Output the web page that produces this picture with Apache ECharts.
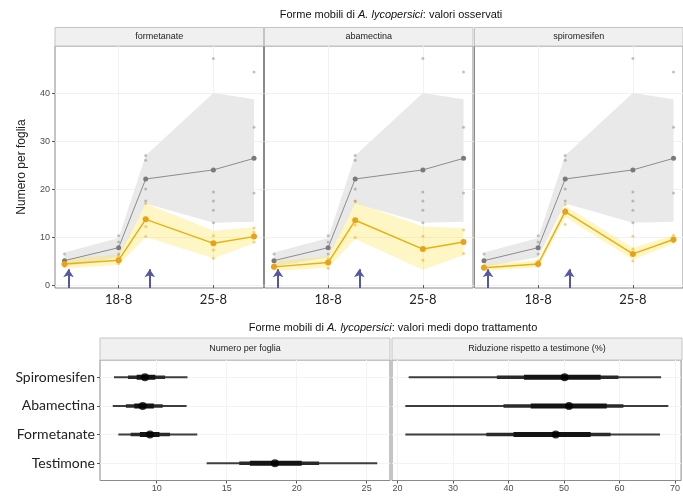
<!DOCTYPE html>
<html><head><meta charset="utf-8">
<script src="https://cdn.jsdelivr.net/npm/echarts@6/dist/echarts.min.js"></script>
<style>html,body{margin:0;padding:0;background:#fff}#c{width:683px;height:502px}</style>
</head><body><div id="c"></div>
<script>
// ---------- DATA (top: observed values) ----------
const panels = ['formetanate', 'abamectina', 'spiromesifen'];
const days = [14, 18, 20, 25, 28];              // day of August
const xTickValues = [18, 25];
const xTickLabels = ['18-8', '25-8'];
const yTickValues = [0, 10, 20, 30, 40];
const treatmentDays = [14.3, 20.3];

const ctrlMean = [5.1, 7.8, 22.1, 24.0, 26.4];
const ctrlLo   = [3.8, 5.8, 17.0, 13.0, 13.2];
const ctrlHi   = [6.8, 9.8, 27.0, 40.0, 38.7];
const ctrlRaw  = [[6.5, 5.2, 4.0], [10.3, 9.0, 6.5], [27.0, 26.0, 20.0, 17.5], [47.2, 19.4, 17.5, 15.6, 13.0], [44.4, 32.9, 26.4, 19.2]];

const formetanateMean = [4.4, 5.2, 13.7, 8.7, 10.1];
const formetanateLo   = [3.4, 4.2, 10.0, 5.6, 8.7];
const formetanateHi   = [5.5, 6.4, 17.0, 11.3, 12.1];
const formetanateRaw  = [[4.0, 5.0, 4.5], [4.5, 6.0, 5.2], [17.0, 12.2, 10.1], [10.3, 7.3, 5.6, 8.7], [11.9, 11.0, 9.0]];

const abamectinaMean = [3.8, 4.7, 13.5, 7.5, 9.0];
const abamectinaLo   = [2.9, 3.6, 9.6, 3.2, 6.2];
const abamectinaHi   = [4.9, 6.0, 17.2, 12.2, 11.9];
const abamectinaRaw  = [[3.5, 4.2], [3.5, 5.5], [17.4, 12.5, 9.9], [10.2, 7.5, 5.2], [11.5, 9.0, 6.6]];

const spiromesifenMean = [3.6, 4.4, 15.3, 6.5, 9.5];
const spiromesifenLo   = [3.0, 3.7, 14.2, 5.3, 8.6];
const spiromesifenHi   = [4.3, 5.2, 16.5, 7.8, 10.4];
const spiromesifenRaw  = [[3.4, 4.0], [4.0, 5.0], [16.8, 15.8, 12.6], [10.2, 7.5, 5.0], [10.4, 9.0]];

// ---------- DATA (bottom: mean values after treatment) ----------
const categories = ['Testimone', 'Formetanate', 'Abamectina', 'Spiromesifen']; // bottom -> top
const countMed  = [18.45, 9.52, 9.00, 9.16];
const count95Lo = [13.57, 7.26, 6.86, 6.95];
const count95Hi = [25.76, 12.90, 12.14, 12.20];
const count80Lo = [15.90, 8.14, 7.80, 7.95];
const count80Hi = [21.60, 10.95, 10.43, 10.60];
const count50Lo = [16.66, 8.80, 8.40, 8.57];
const count50Hi = [20.36, 10.20, 9.80, 9.90];
const countTicks = [10, 15, 20, 25];

const redMed  = [null, 48.5, 50.9, 50.1];
const red95Lo = [null, 21.4, 21.4, 22.0];
const red95Hi = [null, 67.3, 68.8, 67.5];
const red80Lo = [null, 36.0, 39.1, 37.9];
const red80Hi = [null, 58.4, 60.7, 59.8];
const red50Lo = [null, 40.9, 44.0, 42.8];
const red50Hi = [null, 54.8, 57.7, 56.6];
const redTicks = [20, 30, 40, 50, 60, 70];

// ---------- BUILD ----------
const trtMean = [formetanateMean, abamectinaMean, spiromesifenMean];
const trtLo = [formetanateLo, abamectinaLo, spiromesifenLo];
const trtHi = [formetanateHi, abamectinaHi, spiromesifenHi];
const trtRaw = [formetanateRaw, abamectinaRaw, spiromesifenRaw];

const topLeft = [55, 264.5, 474.5];
const topW = 208.5, topTop = 46, topH = 242;
const botTop = 360, botH = 120.5;
const FONT = 'Liberation Sans, Arial, sans-serif';

const grids = [], xAxes = [], yAxes = [], series = [], graphics = [];

function pairs(xs, ys) { return xs.map((x, i) => [x, ys[i]]); }
function rawPts(raw) { const out = []; raw.forEach((arr, i) => arr.forEach(v => out.push([days[i], v]))); return out; }

function ribbon(idx, lo, hi, color) {
  return {
    type: 'custom', xAxisIndex: idx, yAxisIndex: idx, silent: true, z: 1, clip: true,
    data: [[days[0], lo[0]]],
    renderItem: function (params, api) {
      const pts = [];
      for (let i = 0; i < days.length; i++) pts.push(api.coord([days[i], hi[i]]));
      for (let i = days.length - 1; i >= 0; i--) pts.push(api.coord([days[i], lo[i]]));
      return { type: 'polygon', shape: { points: pts }, style: { fill: color } };
    }
  };
}

panels.forEach((name, p) => {
  grids.push({ left: topLeft[p], top: topTop, width: topW, height: topH, show: true,
    borderColor: '#8a8a8a', borderWidth: 1, backgroundColor: '#fff', containLabel: false });
  xAxes.push({ type: 'value', gridIndex: p, min: 13.3, max: 28.7,
    axisLine: { show: false }, splitLine: { show: false },
    axisTick: { show: true, customValues: xTickValues, length: 3, lineStyle: { color: '#555' } },
    axisLabel: { customValues: xTickValues, formatter: v => xTickLabels[xTickValues.indexOf(v)],
      fontFamily: 'Lato, sans-serif', fontSize: 13, color: '#222', margin: 5 } });
  yAxes.push({ type: 'value', gridIndex: p, min: -0.6, max: 49.8,
    axisLine: { show: false }, splitLine: { show: false },
    axisTick: { show: p === 0, customValues: yTickValues, length: 3, lineStyle: { color: '#555' } },
    axisLabel: { show: p === 0, customValues: yTickValues, fontFamily: FONT, fontSize: 9, color: '#4d4d4d', margin: 5 },
    name: p === 0 ? 'Numero per foglia' : '', nameLocation: 'middle', nameGap: 27,
    nameTextStyle: { fontFamily: FONT, fontSize: 12, color: '#222' } });

  // faint grid lines (below everything)
  series.push({ type: 'line', xAxisIndex: p, yAxisIndex: p, z: 0, silent: true, showSymbol: false,
    data: [[days[0], ctrlMean[0]]], lineStyle: { opacity: 0 },
    markLine: { z: 0, silent: true, symbol: 'none', label: { show: false }, animation: false,
      lineStyle: { color: '#f1f1f1', width: 1, type: 'solid' },
      data: yTickValues.map(v => ({ yAxis: v })).concat(xTickValues.map(v => ({ xAxis: v }))) } });

  series.push(ribbon(p, ctrlLo, ctrlHi, '#e9e9e9'));
  series.push(ribbon(p, trtLo[p], trtHi[p], 'rgba(255,228,80,0.33)'));

  series.push({ type: 'scatter', xAxisIndex: p, yAxisIndex: p, z: 2, silent: true,
    symbolSize: 3, itemStyle: { color: 'rgba(130,130,130,0.6)' }, data: rawPts(ctrlRaw) });
  series.push({ type: 'scatter', xAxisIndex: p, yAxisIndex: p, z: 2, silent: true,
    symbolSize: 3, itemStyle: { color: 'rgba(235,165,0,0.6)' }, data: rawPts(trtRaw[p]) });

  series.push({ type: 'line', xAxisIndex: p, yAxisIndex: p, z: 3, silent: true,
    symbol: 'circle', symbolSize: 5, itemStyle: { color: '#7a7a7a' },
    lineStyle: { color: '#8c8c8c', width: 1 }, data: pairs(days, ctrlMean),
    markLine: { z: 6, silent: true, symbol: ['none', 'arrow'], symbolSize: 8, label: { show: false }, animation: false,
      lineStyle: { color: '#5557a4', width: 2, type: 'solid' },
      data: treatmentDays.map(d => [{ coord: [d, -0.6] }, { coord: [d, 3.3] }]) } });
  series.push({ type: 'line', xAxisIndex: p, yAxisIndex: p, z: 3, silent: true,
    symbol: 'circle', symbolSize: 6, itemStyle: { color: '#e8a21a' },
    lineStyle: { color: '#e9b10c', width: 1.5 }, data: pairs(days, trtMean[p]) });

  graphics.push({ type: 'rect', shape: { x: topLeft[p], y: 27.5, width: topW, height: 18.5 },
    style: { fill: '#f0f0f0', stroke: '#c4c4c4', lineWidth: 1 } });
  graphics.push({ type: 'text', x: topLeft[p] + topW / 2, y: 37,
    style: { text: name, font: '9px ' + FONT, fill: '#222', textAlign: 'center', textVerticalAlign: 'middle' } });
});

// bottom panels
const botDefs = [
  { left: 100, width: 290, min: 5.95, max: 26.67, ticks: countTicks, title: 'Numero per foglia',
    med: countMed, l95: count95Lo, h95: count95Hi, l80: count80Lo, h80: count80Hi, l50: count50Lo, h50: count50Hi },
  { left: 392, width: 290, min: 19.0, max: 71.1, ticks: redTicks, title: 'Riduzione rispetto a testimone (%)',
    med: redMed, l95: red95Lo, h95: red95Hi, l80: red80Lo, h80: red80Hi, l50: red50Lo, h50: red50Hi }
];
const catPos = categories.map((c, i) => i + 1);

function intervalSeries(idx, lo, hi, color, width, z) {
  const out = [];
  catPos.forEach((y, i) => {
    if (lo[i] == null) return;
    out.push({ type: 'line', xAxisIndex: idx, yAxisIndex: idx, silent: true, z: z, showSymbol: false,
      symbol: 'none', lineStyle: { color: color, width: width, cap: 'butt' },
      data: [[lo[i], y], [hi[i], y]] });
  });
  return out;
}

botDefs.forEach((d, k) => {
  const idx = 3 + k;
  grids.push({ left: d.left, top: botTop, width: d.width, height: botH, show: true,
    borderColor: '#8a8a8a', borderWidth: 1, backgroundColor: '#fff' });
  xAxes.push({ type: 'value', gridIndex: idx, min: d.min, max: d.max,
    axisLine: { show: false }, splitLine: { show: false },
    axisTick: { show: true, customValues: d.ticks, length: 3, lineStyle: { color: '#555' } },
    axisLabel: { customValues: d.ticks, fontFamily: FONT, fontSize: 9, color: '#4d4d4d', margin: 4 } });
  yAxes.push({ type: 'value', gridIndex: idx, min: 0.4, max: 4.6,
    axisLine: { show: false }, splitLine: { show: false },
    axisTick: { show: k === 0, customValues: catPos, length: 3, lineStyle: { color: '#555' } },
    axisLabel: { show: k === 0, customValues: catPos, formatter: v => categories[v - 1],
      fontFamily: 'Lato, sans-serif', fontSize: 14, color: '#222', margin: 5 } });
  series.push({ type: 'line', xAxisIndex: idx, yAxisIndex: idx, z: 0, silent: true, showSymbol: false,
    data: [[d.ticks[0], 1]], lineStyle: { opacity: 0 },
    markLine: { z: 0, silent: true, symbol: 'none', label: { show: false }, animation: false,
      lineStyle: { color: '#f3f3f3', width: 1, type: 'solid' },
      data: d.ticks.map(v => ({ xAxis: v })).concat(catPos.map(v => ({ yAxis: v }))) } });
  series.push(...intervalSeries(idx, d.l95, d.h95, '#3d3d3d', 2, 2));
  series.push(...intervalSeries(idx, d.l80, d.h80, '#2a2a2a', 3.5, 3));
  series.push(...intervalSeries(idx, d.l50, d.h50, '#141414', 5, 4));
  series.push({ type: 'scatter', xAxisIndex: idx, yAxisIndex: idx, z: 5, silent: true,
    symbolSize: 8, itemStyle: { color: '#000' },
    data: catPos.map((y, i) => d.med[i] == null ? null : [d.med[i], y]).filter(v => v) });
  graphics.push({ type: 'rect', shape: { x: d.left, y: 338, width: d.width, height: 22 },
    style: { fill: '#f0f0f0', stroke: '#c4c4c4', lineWidth: 1 } });
  graphics.push({ type: 'text', x: d.left + d.width / 2, y: 349,
    style: { text: d.title, font: '9px ' + FONT, fill: '#222', textAlign: 'center', textVerticalAlign: 'middle' } });
});

const titleRich = {
  a: { fontFamily: FONT, fontSize: 11, color: '#111', fontWeight: 'normal' },
  i: { fontFamily: FONT, fontSize: 11, color: '#111', fontStyle: 'italic', fontWeight: 'normal' }
};

const chart = echarts.init(document.getElementById('c'), null, { renderer: 'canvas' });
chart.setOption({
  animation: false,
  backgroundColor: '#fff',
  title: [
    { text: '{a|Forme mobili di }{i|A. lycopersici}{a|: valori osservati}', left: 386, top: 4, textAlign: 'center',
      textStyle: { rich: titleRich } },
    { text: '{a|Forme mobili di }{i|A. lycopersici}{a|: valori medi dopo trattamento}', left: 388, top: 317, textAlign: 'center',
      textStyle: { rich: titleRich } }
  ],
  grid: grids, xAxis: xAxes, yAxis: yAxes, series: series,
  graphic: graphics
});
</script></body></html>
